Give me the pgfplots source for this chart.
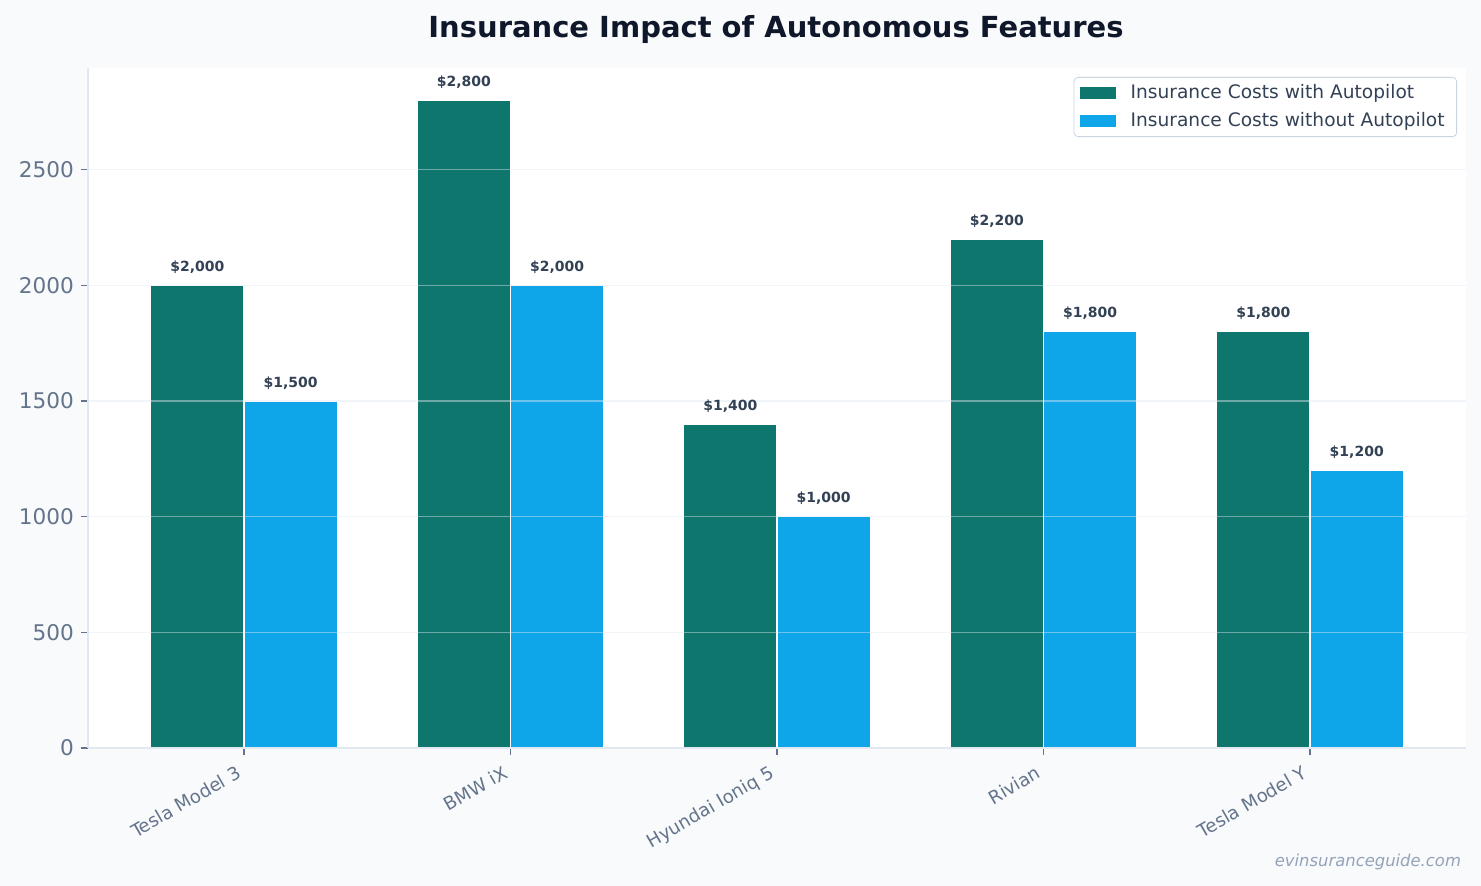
\documentclass[border=0pt]{standalone}
\usepackage{fontspec}
\setmainfont{DejaVu Sans}
\usepackage{pgfplots}
\pgfplotsset{compat=1.18}
\definecolor{bgc}{HTML}{F8FAFC}
\definecolor{cwith}{HTML}{0F766E}
\definecolor{cwithout}{HTML}{0EA5E9}
\definecolor{titlec}{HTML}{0F172A}
\definecolor{tickc}{HTML}{64748B}
\definecolor{labc}{HTML}{334155}
\definecolor{spinec}{HTML}{E2E8F0}
\definecolor{legb}{HTML}{CBD5E1}
\definecolor{wmc}{HTML}{94A3B8}
\begin{document}
\begin{tikzpicture}
\fill[bgc] (0,0) rectangle (740.5pt,443pt);
\node[font=\bfseries\fontsize{14.5}{17}\selectfont, text=titlec] at (388pt,428pt) {Insurance Impact of Autonomous Features};
\node[font=\itshape\fontsize{8.2}{10}\selectfont, text=wmc, anchor=east] at (734pt,12pt) {evinsuranceguide.com};
\begin{axis}[
  at={(44pt,69pt)}, anchor=south west,
  scale only axis, width=689pt, height=340pt,
  xmin=-0.585, xmax=4.585, ymin=0, ymax=2940,
  axis background/.style={fill=white},
  axis x line*=bottom, axis y line*=left,
  axis line style={draw=spinec, line width=1pt, -},
  ytick={0,500,1000,1500,2000,2500},
  xtick={0,1,2,3,4},
  xticklabels={Tesla Model 3, BMW iX, Hyundai Ioniq 5, Rivian, Tesla Model Y},
  xticklabel style={rotate=30, anchor=north east, font=\fontsize{9.1}{11}\selectfont, text=tickc, inner sep=1pt, xshift=-5pt, yshift=-1pt},
  yticklabel style={font=\fontsize{10.8}{12}\selectfont, text=tickc, /pgf/number format/1000 sep={}},
  /pgf/number format/assume math mode=true,
  /pgf/number format/1000 sep={},
  scaled y ticks=false,
  tick align=outside, major tick length=3.5pt,
  tick style={draw=tickc, line width=0.6pt},
  ymajorgrids, grid style={draw=spinec, opacity=0.45, line width=0.6pt},
  axis on top,
  ybar=0pt, bar width=46.64pt,
  nodes near coords, point meta=explicit symbolic,
  every node near coord/.append style={font=\bfseries\fontsize{7}{8}\selectfont, text=labc, anchor=base, yshift=7pt},
  legend style={at={(1,1)}, xshift=-4.5pt, yshift=-4.5pt, anchor=north east, draw=legb, rounded corners=2pt, fill=white, font=\fontsize{9.3}{11}\selectfont, text=labc, row sep=1.5pt, inner xsep=3pt, inner ysep=1.5pt},
  legend cell align=left,
  legend image code/.code={\fill[#1,draw=none,sharp corners] (0pt,-3pt) rectangle (18pt,3pt); \path (22pt,0pt);},
  legend style={nodes={inner xsep=3pt}},
]
\addplot[fill=cwith, draw=white, line width=0.6pt, bar shift=-23.32pt] coordinates {(0,2000) [\$2,000] (1,2800) [\$2,800] (2,1400) [\$1,400] (3,2200) [\$2,200] (4,1800) [\$1,800]};
\addplot[fill=cwithout, draw=white, line width=0.6pt, bar shift=23.32pt] coordinates {(0,1500) [\$1,500] (1,2000) [\$2,000] (2,1000) [\$1,000] (3,1800) [\$1,800] (4,1200) [\$1,200]};
\legend{Insurance Costs with Autopilot, Insurance Costs without Autopilot}
\end{axis}
\end{tikzpicture}
\end{document}
